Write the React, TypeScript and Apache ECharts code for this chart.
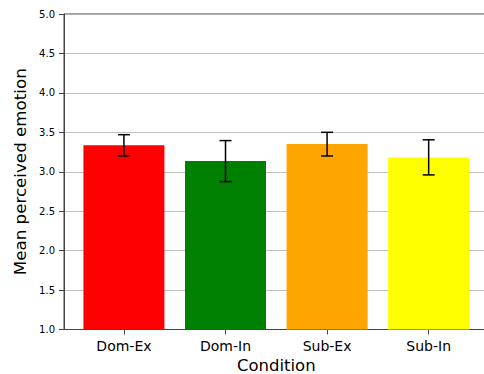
import React, { useEffect, useRef } from "react";
import * as echarts from "echarts";

const categories = ["Dom-Ex", "Dom-In", "Sub-Ex", "Sub-In"];
const means = [3.335, 3.135, 3.352, 3.18];
const errLow = [3.2, 2.875, 3.2, 2.96];
const errHigh = [3.47, 3.395, 3.5, 3.405];
const barColors = ["#ff0000", "#008000", "#ffa500", "#ffff00"];
const yTicks = [1.0, 1.5, 2.0, 2.5, 3.0, 3.5, 4.0, 4.5, 5.0];

const FONT = "DejaVu Sans";

export default function App() {
  const ref = useRef<HTMLDivElement>(null);
  useEffect(() => {
    if (!ref.current) return;
    const chart = echarts.init(ref.current, undefined, { renderer: "svg" });
    const idx = categories.map((_, i) => i);
    chart.setOption({
      animation: false,
      backgroundColor: "#ffffff",
      grid: {
        left: 64,
        right: -4.6,
        top: 14,
        bottom: 44.5,
        show: true,
        borderColor: "#444",
        borderWidth: 1,
        backgroundColor: "transparent",
        outerBoundsMode: "none",
        containLabel: false,
      },
      xAxis: {
        type: "value",
        min: -0.59,
        max: 3.59,
        name: "Condition",
        nameLocation: "middle",
        nameGap: 25,
        nameTextStyle: {
          fontFamily: FONT,
          fontSize: 16.5,
          lineHeight: 16,
          color: "#000",
          verticalAlign: "top",
        },
        axisLine: { show: true, onZero: false, lineStyle: { color: "#444", width: 1 } },
        axisTick: { show: true, customValues: idx, length: 5, lineStyle: { color: "#444" } },
        axisLabel: {
          customValues: idx,
          formatter: (v: number) => categories[Math.round(v)] ?? "",
          fontFamily: FONT,
          fontSize: 14,
          color: "#000",
          margin: 9,
        },
        splitLine: { show: false },
      },
      yAxis: {
        type: "value",
        min: yTicks[0],
        max: yTicks[yTicks.length - 1],
        interval: 0.5,
        name: "Mean perceived emotion",
        nameLocation: "middle",
        nameRotate: 90,
        nameGap: 29,
        nameTextStyle: { fontFamily: FONT, fontSize: 16.7, color: "#000" },
        axisLine: { show: true, onZero: false, lineStyle: { color: "#444", width: 1 } },
        axisTick: { show: true, length: 5, lineStyle: { color: "#444" } },
        axisLabel: {
          formatter: (v: number) => v.toFixed(1),
          fontFamily: FONT,
          fontSize: 10,
          color: "#000",
          margin: 9,
        },
        splitLine: { show: true, lineStyle: { color: "#b0b0b0", width: 0.8 } },
      },
      series: [
        {
          type: "bar",
          barWidth: 81,
          data: means.map((v, i) => ({ value: [i, v], itemStyle: { color: barColors[i] } })),
          z: 2,
        },
        {
          type: "custom",
          z: 5,
          data: means.map((_, i) => [i, errLow[i], errHigh[i]]),
          renderItem: (params: any, api: any) => {
            const x = api.value(0);
            const top = api.coord([x, api.value(2)]);
            const bot = api.coord([x, api.value(1)]);
            const cap = 6;
            const style = { stroke: "#000", lineWidth: 1.5 };
            return {
              type: "group",
              children: [
                { type: "line", shape: { x1: top[0], y1: top[1], x2: bot[0], y2: bot[1] }, style },
                { type: "line", shape: { x1: top[0] - cap, y1: top[1], x2: top[0] + cap, y2: top[1] }, style },
                { type: "line", shape: { x1: bot[0] - cap, y1: bot[1], x2: bot[0] + cap, y2: bot[1] }, style },
              ],
            };
          },
        },
      ],
    });
    return () => chart.dispose();
  }, []);
  return (
    <div
      ref={ref}
      style={{ position: "fixed", left: 0, top: 0, width: 484, height: 374 }}
    />
  );
}
